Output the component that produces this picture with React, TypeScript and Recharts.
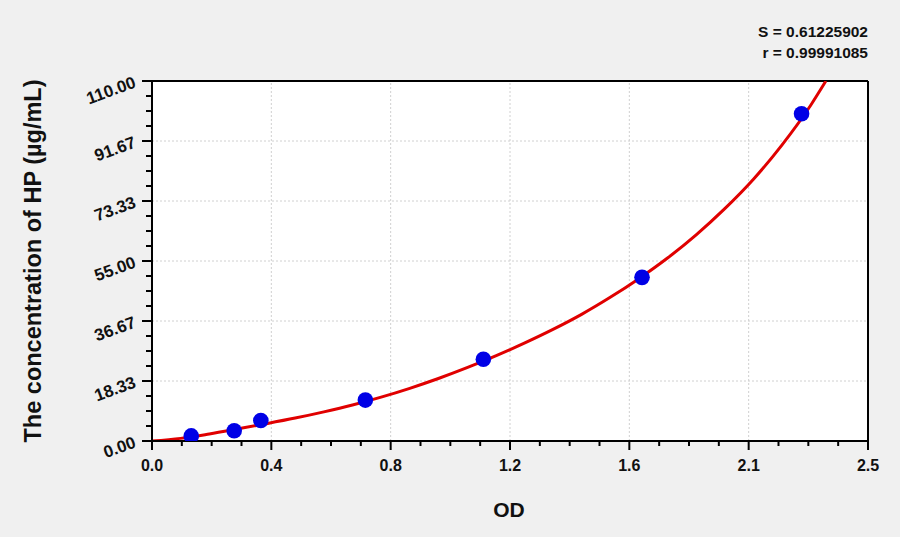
import { CartesianGrid, ComposedChart, Line, ReferenceLine, Scatter, XAxis, YAxis } from 'recharts';

// standard points (OD vs concentration)
const odValues = [0.137, 0.287, 0.38, 0.745, 1.157, 1.711, 2.268];
const concValues = [1.56, 3.13, 6.25, 12.5, 25, 50, 100];

// fitted curve
const curveOd = [0, 0.1, 0.2, 0.3, 0.4, 0.5, 0.6, 0.7, 0.8, 0.9, 1.0, 1.1, 1.2, 1.3, 1.4, 1.5, 1.6, 1.7, 1.8, 1.9, 2.0, 2.1, 2.2, 2.3, 2.353];
const curveConc = [0, 0.8, 2.15, 3.7, 5.3, 7.0, 8.9, 11.0, 13.4, 16.1, 19.1, 22.4, 26.0, 29.9, 34.1, 38.7, 43.9, 49.6, 55.9, 63.0, 71.0, 80.0, 90.5, 102.6, 110];

const xTickLabels = ['0.0', '0.4', '0.8', '1.2', '1.6', '2.1', '2.5'];
const yTickLabels = ['0.00', '18.33', '36.67', '55.00', '73.33', '91.67', '110.00'];

const X_MAX = 2.5;
const Y_MAX = 110;
const MINOR = 4;

const xTicks = Array.from({ length: (xTickLabels.length - 1) * MINOR + 1 }, (_, i) => (i * X_MAX) / ((xTickLabels.length - 1) * MINOR));
const yTicks = Array.from({ length: (yTickLabels.length - 1) * MINOR + 1 }, (_, i) => (i * Y_MAX) / ((yTickLabels.length - 1) * MINOR));
const xMajor = xTicks.filter((_, i) => i % MINOR === 0);
const yMajor = yTicks.filter((_, i) => i % MINOR === 0);

const points = odValues.map((x, i) => ({ x, y: concValues[i] }));
const curve = curveOd.map((x, i) => ({ x, y: curveConc[i] }));

const FONT = '"Liberation Sans", Arial, sans-serif';

const XTick = (props: any) => {
  const { x, y, index } = props;
  const major = index % MINOR === 0;
  return (
    <g>
      <line x1={x} y1={y} x2={x} y2={y + (major ? 9 : 5)} stroke="#000" strokeWidth={2} />
      {major ? (
        <text x={x} y={y + 30} textAnchor="middle" fontSize={16} fontWeight="bold" fill="#111" fontFamily={FONT}>
          {xTickLabels[index / MINOR]}
        </text>
      ) : null}
    </g>
  );
};

const YTick = (props: any) => {
  const { x, y, index } = props;
  const major = index % MINOR === 0;
  const tx = x - 15;
  const ty = y + 6;
  return (
    <g>
      <line x1={x - (major ? 10 : 6)} y1={y} x2={x} y2={y} stroke="#000" strokeWidth={2} />
      {major ? (
        <text
          x={tx}
          y={ty}
          textAnchor="end"
          fontSize={17}
          fontWeight="bold"
          fill="#111"
          fontFamily={FONT}
          transform={`rotate(-20, ${tx}, ${ty})`}
        >
          {yTickLabels[index / MINOR]}
        </text>
      ) : null}
    </g>
  );
};

const Dot = (props: any) => <circle cx={props.cx} cy={props.cy} r={7.8} fill="#0000e6" />;

export default function App() {
  return (
    <div
      style={{
        position: 'absolute',
        left: 0,
        top: 0,
        width: 900,
        height: 537,
        background: '#f0f0f0',
        fontFamily: FONT,
      }}
    >
      <ComposedChart width={900} height={537} margin={{ top: 81, right: 32, bottom: 56, left: 92 }}>
        <CartesianGrid fill="#ffffff" horizontal={false} vertical={false} />
        <XAxis
          type="number"
          dataKey="x"
          domain={[0, X_MAX]}
          ticks={xTicks}
          interval={0}
          allowDataOverflow
          height={40}
          tickSize={0}
          tickMargin={0}
          tickLine={false}
          axisLine={{ stroke: '#000', strokeWidth: 2 }}
          tick={<XTick />}
        />
        <YAxis
          type="number"
          domain={[0, Y_MAX]}
          ticks={yTicks}
          interval={0}
          allowDataOverflow
          width={60}
          tickSize={0}
          tickMargin={0}
          tickLine={false}
          axisLine={{ stroke: '#000', strokeWidth: 2 }}
          tick={<YTick />}
        />
        {xMajor.slice(1, -1).map((v) => (
          <ReferenceLine key={`gx${v}`} x={v} stroke="#d0d0d0" strokeDasharray="2 2" strokeWidth={1} />
        ))}
        {yMajor.slice(1, -1).map((v) => (
          <ReferenceLine key={`gy${v}`} y={v} stroke="#d0d0d0" strokeDasharray="2 2" strokeWidth={1} />
        ))}
        <ReferenceLine x={X_MAX} stroke="#000" strokeWidth={2} />
        <ReferenceLine y={Y_MAX} stroke="#000" strokeWidth={2} />
        <Line
          data={curve}
          dataKey="y"
          type="monotone"
          stroke="#e00000"
          strokeWidth={3}
          dot={false}
          activeDot={false}
          isAnimationActive={false}
        />
        <Scatter data={points} dataKey="y" shape={<Dot />} isAnimationActive={false} />
      </ComposedChart>
      <svg
        width={900}
        height={537}
        style={{ position: 'absolute', left: 0, top: 0, pointerEvents: 'none' }}
        fontFamily={FONT}
        fontWeight="bold"
        fill="#111"
      >
        <text x={868} y={37} textAnchor="end" fontSize={15.5}>
          S = 0.61225902
        </text>
        <text x={868} y={58} textAnchor="end" fontSize={15.5}>
          r = 0.99991085
        </text>
        <text transform="translate(41,261) rotate(-90)" textAnchor="middle" fontSize={23.5}>
          The concentration of HP (µg/mL)
        </text>
        <text x={509} y={517} textAnchor="middle" fontSize={21}>
          OD
        </text>
      </svg>
    </div>
  );
}
